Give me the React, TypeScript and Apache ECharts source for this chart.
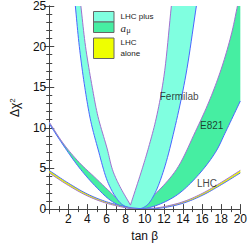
import React, { useEffect, useRef } from "react";
import * as echarts from "echarts";

// ---- data (tan beta, delta chi^2) ----
const xTickLabels = [2, 4, 6, 8, 10, 12, 14, 16, 18, 20];
const yTickLabels = [0, 5, 10, 15, 20, 25];

// Fermilab band: outer (blue) boundary and inner (purple) boundary (two arms meeting in a cusp)
const fermiOuter: [number, number][] = [
  [2.73, 25], [3.15, 20], [3.72, 15], [4.35, 10.8], [5.1, 7.4], [6.1, 3.4], [6.95, 1.5],
  [7.6, 0.6], [8.4, 0.15], [9.3, 0.0], [10.2, 0.45], [11.0, 1.8], [12.0, 4.85],
  [13.2, 10.3], [14.3, 16.5], [15.4, 25],
];
const fermiInnerLeft: [number, number][] = [
  [3.31, 25], [3.8, 20], [4.5, 15], [5.1, 11.4], [6.07, 7.4], [6.62, 4.85], [7.3, 3.0], [8.5, 0.49],
];
const fermiInnerRight: [number, number][] = [
  [8.5, 0.49], [9.7, 4.85], [10.4, 7.6], [11.2, 11.2], [12.0, 16.3], [12.78, 25],
];

// E821 band: upper (purple) and lower (blue) boundaries
const e821Upper: [number, number][] = [
  [0, 10.7], [1.52, 8.0], [3.14, 5.74], [4.76, 3.92], [6.38, 2.1], [7.67, 0.7], [8.6, 0.25],
  [9.6, 0.4], [10.3, 1.0], [11.1, 1.86], [13.3, 4.85], [15.3, 9.55], [16.85, 13.6],
  [18.1, 17.6], [19.1, 21.7], [19.7, 25],
];
const e821Lower: [number, number][] = [
  [0, 10.5], [1.52, 7.77], [3.14, 5.1], [4.76, 2.9], [6.38, 1.1], [7.67, 0.3], [9.0, 0.02],
  [10.65, 0.24], [13.2, 1.6], [15.45, 4.0], [17.4, 7.0], [18.5, 9.6], [20, 13.3],
];
const e821Corner: [number, number] = [20, 25];

// LHC alone band: two boundary lines
const lhcBlue: [number, number][] = [
  [0, 4.75], [2, 3.2], [4, 1.85], [6, 0.9], [8, 0.3], [9, 0.12], [10, 0.03], [11, 0.05],
  [12, 0.18], [14, 0.72], [16, 1.68], [18, 3.0], [20, 4.45],
];
const lhcPurple: [number, number][] = [
  [0, 4.45], [2, 2.92], [4, 1.62], [6, 0.72], [8, 0.18], [9, 0.05], [10, 0.03], [11, 0.12],
  [12, 0.3], [14, 0.9], [16, 1.92], [18, 3.28], [20, 4.77],
];

const curveLabels = [
  { name: "Fermilab", value: [13.6, 13.8] },
  { name: "E821", value: [17.0, 10.3] },
  { name: "LHC", value: [16.5, 3.1] },
];

// ---- styles ----
const AQUA = "#80ffe0";
const GREEN = "#46eea2";
const YELLOW = "#efff00";
const PURPLE = "#a070d0";
const BLUE = "#4a66ff";
const FRAME = "#444";
const FONT = "'Liberation Sans', Arial, Helvetica, sans-serif";

type P = number[];

// centripetal Catmull-Rom through pixel points (rendering-side smoothing)
function spline(pts: P[], seg = 10): P[] {
  if (pts.length < 3) return pts.slice();
  const out: P[] = [pts[0]];
  const d = (a: P, b: P) => Math.max(Math.pow(Math.hypot(b[0] - a[0], b[1] - a[1]), 0.5), 1e-4);
  for (let i = 0; i < pts.length - 1; i++) {
    const p1 = pts[i];
    const p2 = pts[i + 1];
    const p0 = i > 0 ? pts[i - 1] : [2 * p1[0] - p2[0], 2 * p1[1] - p2[1]];
    const p3 = i + 2 < pts.length ? pts[i + 2] : [2 * p2[0] - p1[0], 2 * p2[1] - p1[1]];
    const t0 = 0;
    const t1 = t0 + d(p0, p1);
    const t2 = t1 + d(p1, p2);
    const t3 = t2 + d(p2, p3);
    for (let k = 1; k <= seg; k++) {
      const t = t1 + ((t2 - t1) * k) / seg;
      const mix = (a: P, b: P, ta: number, tb: number) => {
        const u = (t - ta) / (tb - ta);
        return [a[0] * (1 - u) + b[0] * u, a[1] * (1 - u) + b[1] * u];
      };
      const A1 = mix(p0, p1, t0, t1);
      const A2 = mix(p1, p2, t1, t2);
      const A3 = mix(p2, p3, t2, t3);
      const B1 = mix(A1, A2, t0, t2);
      const B2 = mix(A2, A3, t1, t3);
      out.push(mix(B1, B2, t1, t2));
    }
  }
  return out;
}

const px = (api: any, pts: [number, number][]) => pts.map((p) => api.coord(p));
const line = (points: P[], color: string) => ({
  type: "polyline",
  shape: { points },
  style: { stroke: color, lineWidth: 1, fill: null },
});

function makeOption() {
  const axisCommon = {
    type: "value",
    axisLine: { show: true, lineStyle: { color: FRAME, width: 1 } },
    axisTick: { show: true, inside: true, length: 5, lineStyle: { color: FRAME } },
    minorTick: { show: true, length: 3, lineStyle: { color: FRAME } },
    splitLine: { show: false },
  };
  return {
    animation: false,
    grid: { left: 37, top: 6, right: 7.5, bottom: 35, containLabel: false },
    xAxis: [
      {
        ...axisCommon,
        position: "bottom",
        min: 0,
        max: 20,
        interval: 2,
        minorTick: { ...axisCommon.minorTick, splitNumber: 2 },
        axisLabel: {
          fontSize: 12,
          color: "#111",
          fontFamily: FONT,
          margin: 4,
          formatter: (v: number) => (xTickLabels.includes(v) ? String(v) : ""),
        },
        name: "tan β",
        nameLocation: "middle",
        nameGap: 16,
        nameTextStyle: { fontSize: 12, color: "#111", fontFamily: FONT },
      },
      {
        ...axisCommon,
        position: "top",
        min: 0,
        max: 20,
        interval: 2,
        minorTick: { ...axisCommon.minorTick, splitNumber: 2 },
        axisLabel: { show: false },
      },
    ],
    yAxis: [
      {
        ...axisCommon,
        position: "left",
        min: 0,
        max: 25,
        interval: 5,
        minorTick: { ...axisCommon.minorTick, splitNumber: 5 },
        axisLabel: {
          fontSize: 12,
          color: "#111",
          fontFamily: FONT,
          margin: 3,
          formatter: (v: number) => (yTickLabels.includes(v) ? String(v) : ""),
        },
        name: "Δχ{s|2}",
        nameLocation: "middle",
        nameGap: 23,
        nameTextStyle: {
          fontSize: 12,
          color: "#111",
          fontFamily: FONT,
          rich: {
            s: { fontSize: 8, fontFamily: FONT, color: "#111", verticalAlign: "top", lineHeight: 14 },
          },
          lineHeight: 14,
        },
      },
      {
        ...axisCommon,
        position: "right",
        min: 0,
        max: 25,
        interval: 5,
        minorTick: { ...axisCommon.minorTick, splitNumber: 5 },
        axisLabel: { show: false },
      },
    ],
    series: [
      {
        type: "custom",
        name: "E821",
        clip: true,
        silent: true,
        data: [[0, 0]],
        renderItem: (params: any, api: any) => {
          if (params.dataIndex !== 0) return;
          const up = spline(px(api, e821Upper));
          const lo = spline(px(api, e821Lower));
          const poly = [...up, api.coord(e821Corner), ...lo.slice().reverse()];
          return {
            type: "group",
            children: [
              { type: "polygon", shape: { points: poly }, style: { fill: GREEN } },
              line(lo, BLUE),
              line(up, PURPLE),
            ],
          };
        },
      },
      {
        type: "custom",
        name: "Fermilab",
        clip: true,
        silent: true,
        data: [[0, 0]],
        renderItem: (params: any, api: any) => {
          if (params.dataIndex !== 0) return;
          const outer = spline(px(api, fermiOuter));
          const inL = spline(px(api, fermiInnerLeft));
          const inR = spline(px(api, fermiInnerRight));
          const poly = [...outer, ...inR.slice().reverse(), ...inL.slice().reverse()];
          return {
            type: "group",
            children: [
              { type: "polygon", shape: { points: poly }, style: { fill: AQUA } },
              line(outer, BLUE),
              line([...inL, ...inR.slice(1)], PURPLE),
            ],
          };
        },
      },
      {
        type: "custom",
        name: "LHC",
        clip: true,
        silent: true,
        data: [[0, 0]],
        renderItem: (params: any, api: any) => {
          if (params.dataIndex !== 0) return;
          const a = spline(px(api, lhcBlue));
          const b = spline(px(api, lhcPurple));
          const poly = [...a, ...b.slice().reverse()];
          return {
            type: "group",
            children: [
              { type: "polygon", shape: { points: poly }, style: { fill: YELLOW } },
              line(b, PURPLE),
              line(a, BLUE),
            ],
          };
        },
      },
      {
        type: "scatter",
        silent: true,
        symbolSize: 0,
        data: curveLabels,
        label: {
          show: true,
          position: "inside",
          formatter: (p: any) => p.name,
          fontSize: 10,
          color: "#111",
          fontFamily: FONT,
        },
      },
    ],
    graphic: [
      { type: "rect", shape: { x: 93.5, y: 11.5, width: 20.5, height: 10.5 }, style: { fill: AQUA, stroke: "#666", lineWidth: 1 } },
      { type: "rect", shape: { x: 93.5, y: 22, width: 20.5, height: 10.5 }, style: { fill: GREEN, stroke: "#666", lineWidth: 1 } },
      { type: "rect", shape: { x: 93.5, y: 38, width: 20.5, height: 20.5 }, style: { fill: YELLOW, stroke: "#666", lineWidth: 1 } },
      { type: "text", x: 120.5, y: 16, style: { text: "LHC plus", fontSize: 8, fontFamily: FONT, fill: "#222", verticalAlign: "middle" } },
      { type: "text", x: 120.5, y: 27.5, style: { text: "a", fontSize: 11, fontStyle: "italic", fontFamily: "'Liberation Serif', 'DejaVu Serif', serif", fill: "#222", verticalAlign: "middle" } },
      { type: "text", x: 126.5, y: 30, style: { text: "μ", fontSize: 7, fontFamily: FONT, fill: "#222", verticalAlign: "middle" } },
      { type: "text", x: 120.5, y: 42, style: { text: "LHC", fontSize: 8, fontFamily: FONT, fill: "#222", verticalAlign: "middle" } },
      { type: "text", x: 120.5, y: 53, style: { text: "alone", fontSize: 8, fontFamily: FONT, fill: "#222", verticalAlign: "middle" } },
    ],
  };
}

export default function App() {
  const ref = useRef<HTMLDivElement>(null);
  useEffect(() => {
    if (!ref.current) return;
    const chart = echarts.init(ref.current, null, { renderer: "svg" });
    chart.setOption(makeOption() as any);
    return () => chart.dispose();
  }, []);
  return (
    <div
      ref={ref}
      style={{ position: "absolute", left: 0, top: 0, width: 250, height: 247, background: "#fff" }}
    />
  );
}
